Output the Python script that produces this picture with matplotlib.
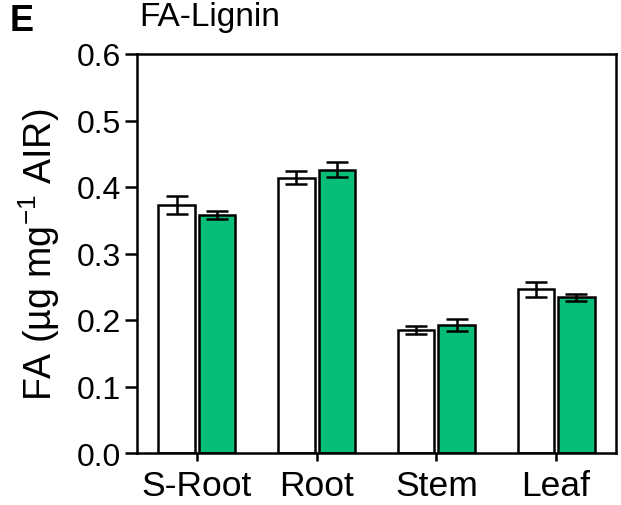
import matplotlib
matplotlib.use("Agg")
import matplotlib.pyplot as plt
import numpy as np

categories = ["S-Root", "Root", "Stem", "Leaf"]
white_vals = [0.373, 0.414, 0.185, 0.246]
white_err = [0.014, 0.010, 0.006, 0.011]
green_vals = [0.358, 0.426, 0.192, 0.234]
green_err = [0.006, 0.011, 0.009, 0.005]
yticks = [0.0, 0.1, 0.2, 0.3, 0.4, 0.5, 0.6]

plt.rcParams['font.family'] = ['Liberation Sans', 'DejaVu Sans']
plt.rcParams['mathtext.fontset'] = 'custom'
plt.rcParams['mathtext.rm'] = 'Liberation Sans'
plt.rcParams['mathtext.it'] = 'Liberation Sans:italic'
plt.rcParams['mathtext.default'] = 'regular'

fig = plt.figure(figsize=(6.21, 5.06), dpi=100)
ax = fig.add_axes([137/621, 1-454/506, (616-137)/621, (454-55)/506])

x = np.arange(len(categories))
w = 0.305
off = 0.17
lw = 1.8
ax.bar(x - off, white_vals, w, color='white', edgecolor='black', linewidth=lw, zorder=2)
ax.bar(x + off, green_vals, w, color='#07BE78', edgecolor='black', linewidth=lw, zorder=2)
ax.errorbar(x - off, white_vals, yerr=white_err, fmt='none', ecolor='black',
            elinewidth=lw, capsize=8, capthick=lw, zorder=3)
ax.errorbar(x + off, green_vals, yerr=green_err, fmt='none', ecolor='black',
            elinewidth=lw, capsize=8, capthick=lw, zorder=3)

ax.set_xlim(-0.5, 3.5)
ax.set_ylim(0, 0.6)
ax.set_yticks(yticks)
ax.set_yticklabels([f"{t:.1f}" for t in yticks])
ax.set_xticks(x)
ax.set_xticklabels(categories)
for s in ax.spines.values():
    s.set_linewidth(lw)
ax.tick_params(axis='y', direction='out', length=9, width=lw, labelsize=23, pad=2.5)
ax.tick_params(axis='x', direction='out', length=5.5, width=lw, labelsize=25.5, pad=6)
ax.set_ylabel("FA (µg mg$^{-1}$ AIR)", fontsize=27)
ax.yaxis.set_label_coords(-0.157, 0.5)

fig.text(10/621, 1-31/506, "E", fontsize=26, fontweight='bold', va='baseline', ha='left')
fig.text(139/621, 1-26/506, "FA-Lignin", fontsize=24, va='baseline', ha='left')

fig.savefig("out.png", dpi=100)
